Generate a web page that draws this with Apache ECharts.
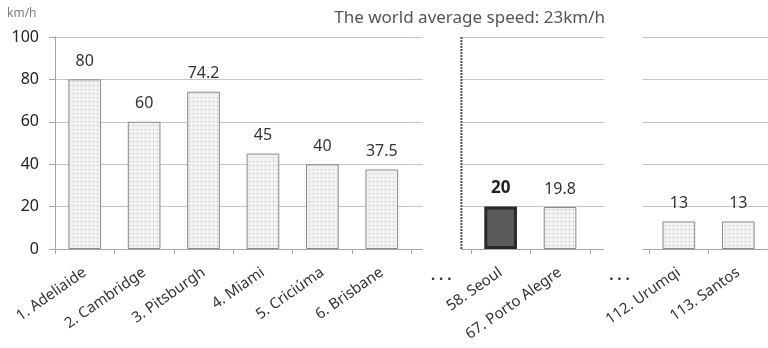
<!DOCTYPE html>
<html>
<head>
<meta charset="utf-8">
<script src="https://cdn.jsdelivr.net/npm/echarts@6/dist/echarts.min.js"></script>
<style>
  html, body { margin: 0; padding: 0; background: #fff; }
  #chart { width: 768px; height: 348px; }
</style>
</head>
<body>
<div id="chart"></div>
<script>
// Cities ranked by average speed; '…' marks a skipped part of the ranking
const cities = ['1. Adeliaide', '2. Cambridge', '3. Pitsburgh', '4. Miami', '5. Criciúma', '6. Brisbane',
  '…', '58. Seoul', '67. Porto Alegre', '…', '112. Urumqi', '113. Santos'];
const speeds = [80, 60, 74.2, 45, 40, 37.5, null, 20, 19.8, null, 13, 13];
const highlightCity = '58. Seoul';
const yTicks = [0, 20, 40, 60, 80, 100];
const titleText = 'The world average speed: 23km/h';
const unitText = 'km/h';

const FONT = '"Noto Sans", "Noto Sans CJK KR", sans-serif';

// dotted fill for the ordinary bars
function dotPattern() {
  const c = document.createElement('canvas');
  c.width = 4; c.height = 4;
  const g = c.getContext('2d');
  g.fillStyle = '#f1f1f1';
  g.fillRect(0, 0, 4, 4);
  g.fillStyle = '#b4b4b4';
  g.fillRect(1, 1, 1, 1);
  return c;
}
const pattern = { image: dotPattern(), repeat: 'repeat' };

const barData = speeds.map((v, i) => {
  if (cities[i] === highlightCity) {
    return {
      value: v,
      itemStyle: { color: '#5a5a5a', borderColor: '#2a2a2a', borderWidth: 3 },
      label: { fontWeight: 'bold', fontSize: 17, color: '#222' }
    };
  }
  return { value: v };
});

const chart = echarts.init(document.getElementById('chart'), null, { renderer: 'canvas' });

chart.setOption({
  animation: false,
  backgroundColor: '#ffffff',
  textStyle: { fontFamily: FONT },
  grid: { left: 55, right: -4, top: 37, bottom: 99, containLabel: false },
  title: {
    text: titleText,
    right: 158, top: 5,
    textStyle: { fontFamily: FONT, fontSize: 17, fontWeight: 'normal', color: '#555' }
  },
  xAxis: [{
    type: 'category',
    data: cities,
    boundaryGap: true,
    axisLine: { show: true, lineStyle: { color: '#a6a6a6', width: 1 } },
    axisTick: { show: true, length: 5, interval: 0, lineStyle: { color: '#a6a6a6' } },
    axisLabel: {
      interval: 0, rotate: 35, margin: 22,
      fontFamily: FONT, fontSize: 15, color: '#333',
      formatter: v => (v === '…' ? '' : v)
    },
    splitLine: { show: false }
  }, {
    type: 'category',
    data: cities,
    position: 'bottom',
    axisLine: { show: false },
    axisTick: { show: false },
    axisLabel: {
      interval: 0, margin: 19,
      fontFamily: FONT, fontSize: 15, fontWeight: 'bold', color: '#333',
      formatter: v => (v === '…' ? '. . .' : '')
    }
  }],
  yAxis: {
    type: 'value',
    min: yTicks[0], max: yTicks[yTicks.length - 1], interval: 20,
    axisLine: { show: true, lineStyle: { color: '#a6a6a6' } },
    axisTick: { show: true, length: 6, lineStyle: { color: '#a6a6a6' } },
    axisLabel: { margin: 16, fontFamily: FONT, fontSize: 16, color: '#222' },
    splitLine: { show: true, lineStyle: { color: '#c4c4c4', width: 1 } }
  },
  series: [{
    type: 'bar',
    xAxisIndex: 0,
    data: barData,
    barWidth: '55%',
    itemStyle: { color: pattern, borderColor: '#8c8c8c', borderWidth: 1 },
    label: {
      show: true, position: 'top', distance: 10,
      fontFamily: FONT, fontSize: 16, color: '#333'
    }
  }]
});

// Break the grid and axis line over the two '…' gaps, and mark the first break with a dotted rule
function addBreaks() {
  const gapIdx = cities.map((c, i) => (c === '…' ? i : -1)).filter(i => i >= 0);
  const p0 = chart.convertToPixel({ xAxisIndex: 0 }, 0);
  const p1 = chart.convertToPixel({ xAxisIndex: 0 }, 1);
  const band = p1 - p0;
  const yTop = chart.convertToPixel({ yAxisIndex: 0 }, yTicks[yTicks.length - 1]);
  const yBot = chart.convertToPixel({ yAxisIndex: 0 }, yTicks[0]);
  const spans = [[-0.31, 0.34], [-0.26, 0.39]];
  const elements = [];
  gapIdx.forEach((gi, k) => {
    const c = chart.convertToPixel({ xAxisIndex: 0 }, gi);
    const s = spans[k] || spans[0];
    const x1 = c + s[0] * band, x2 = c + s[1] * band;
    elements.push({
      type: 'rect', z: 100,
      shape: { x: x1, y: yTop - 3, width: x2 - x1, height: yBot - yTop + 4.5 },
      style: { fill: '#ffffff' }, silent: true
    });
    if (k === 0) {
      elements.push({
        type: 'line', z: 101,
        shape: { x1: x2, y1: yTop, x2: x2, y2: yBot },
        style: { stroke: '#555', lineWidth: 2, lineDash: [2, 1] }, silent: true
      });
    }
  });
  elements.push({
    type: 'text', left: 7, top: 8, z: 101,
    style: { text: unitText, fill: '#808080', font: '12px ' + FONT }
  });
  chart.setOption({ graphic: elements });
}
addBreaks();
</script>
</body>
</html>
